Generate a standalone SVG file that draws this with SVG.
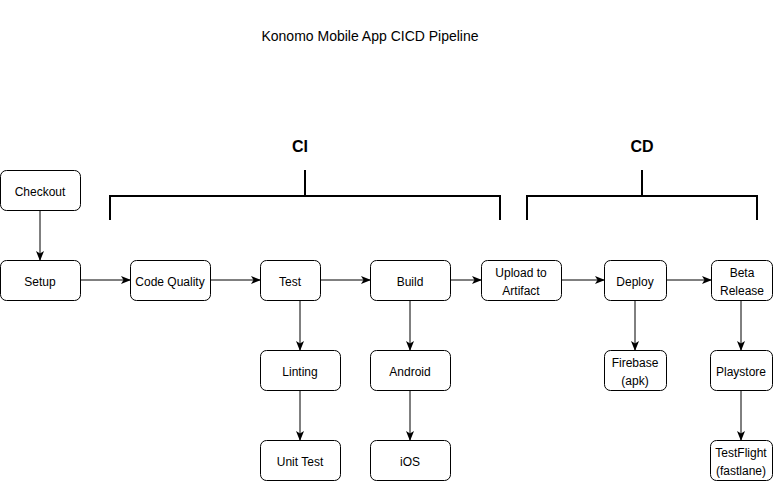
<svg xmlns="http://www.w3.org/2000/svg" width="774" height="481" viewBox="0 0 774 481">
<style>
.n rect{fill:#fff;stroke:#000;stroke-width:1}
text{font-family:"Liberation Sans",Arial,sans-serif;font-size:12px;fill:#000;text-anchor:middle}
.c line{stroke:#000;stroke-width:1;marker-end:url(#ah)}
.br{fill:none;stroke:#000;stroke-width:2}
.h{font-size:16px;font-weight:bold}
</style>
<defs>
<marker id="ah" viewBox="0 0 10 8" refX="9" refY="4" markerWidth="10" markerHeight="8" markerUnits="userSpaceOnUse" orient="auto">
<path d="M0,0 L10,4 L0,8 L2.5,4 z" fill="#000"/>
</marker>
</defs>
<rect width="774" height="481" fill="#fff"/>
<text x="370" y="41" style="font-size:14px">Konomo Mobile App CICD Pipeline</text>

<g id="ci-bracket">
<path class="br" d="M110,220 V196 H500 V220 M305,196 V170"/>
<text class="h" x="300" y="152">CI</text>
</g>
<g id="cd-bracket">
<path class="br" d="M527,220 V196 H757 V220 M642,196 V170"/>
<text class="h" x="642" y="152">CD</text>
</g>

<g class="c" id="connectors">
<line x1="40" y1="210" x2="40" y2="260"/>
<line x1="80" y1="280" x2="130" y2="280"/>
<line x1="210" y1="280" x2="260" y2="280"/>
<line x1="320" y1="280" x2="370" y2="280"/>
<line x1="450" y1="280" x2="481" y2="280"/>
<line x1="561" y1="280" x2="604" y2="280"/>
<line x1="667" y1="280" x2="711" y2="280"/>
<line x1="300" y1="300" x2="300" y2="350"/>
<line x1="300" y1="390" x2="300" y2="440"/>
<line x1="410" y1="300" x2="410" y2="350"/>
<line x1="410" y1="390" x2="410" y2="440"/>
<line x1="635" y1="300" x2="635" y2="350"/>
<line x1="741" y1="300" x2="741" y2="350"/>
<line x1="741" y1="390" x2="741" y2="440"/>
</g>

<g class="n" id="checkout"><rect x="0.5" y="170.5" width="80" height="40" rx="6"/><text x="40" y="196">Checkout</text></g>
<g class="n" id="setup"><rect x="0.5" y="260.5" width="80" height="40" rx="6"/><text x="40" y="286">Setup</text></g>
<g class="n" id="code-quality"><rect x="130.5" y="260.5" width="80" height="40" rx="6"/><text x="170" y="286">Code Quality</text></g>
<g class="n" id="test"><rect x="260.5" y="260.5" width="60" height="40" rx="6"/><text x="290" y="286">Test</text></g>
<g class="n" id="build"><rect x="370.5" y="260.5" width="80" height="40" rx="6"/><text x="410" y="286">Build</text></g>
<g class="n" id="upload"><rect x="481.5" y="260.5" width="80" height="40" rx="6"/><text x="521" y="277">Upload to</text><text x="521" y="295">Artifact</text></g>
<g class="n" id="deploy"><rect x="604.5" y="260.5" width="62" height="40" rx="6"/><text x="635" y="286">Deploy</text></g>
<g class="n" id="beta"><rect x="711.5" y="260.5" width="61" height="40" rx="6"/><text x="742" y="277">Beta</text><text x="742" y="295">Release</text></g>
<g class="n" id="linting"><rect x="260.5" y="350.5" width="80" height="40" rx="6"/><text x="300" y="376">Linting</text></g>
<g class="n" id="unit-test"><rect x="260.5" y="440.5" width="80" height="40" rx="6"/><text x="300" y="466">Unit Test</text></g>
<g class="n" id="android"><rect x="370.5" y="350.5" width="80" height="40" rx="6"/><text x="410" y="376">Android</text></g>
<g class="n" id="ios"><rect x="370.5" y="440.5" width="80" height="40" rx="6"/><text x="410" y="466">iOS</text></g>
<g class="n" id="firebase"><rect x="604.5" y="350.5" width="62" height="40" rx="6"/><text x="635" y="367">Firebase</text><text x="635" y="385">(apk)</text></g>
<g class="n" id="playstore"><rect x="710.5" y="350.5" width="62" height="40" rx="6"/><text x="741" y="376">Playstore</text></g>
<g class="n" id="testflight"><rect x="710.5" y="440.5" width="62" height="40" rx="6"/><text x="741" y="457">TestFlight</text><text x="741" y="475">(fastlane)</text></g>
</svg>
